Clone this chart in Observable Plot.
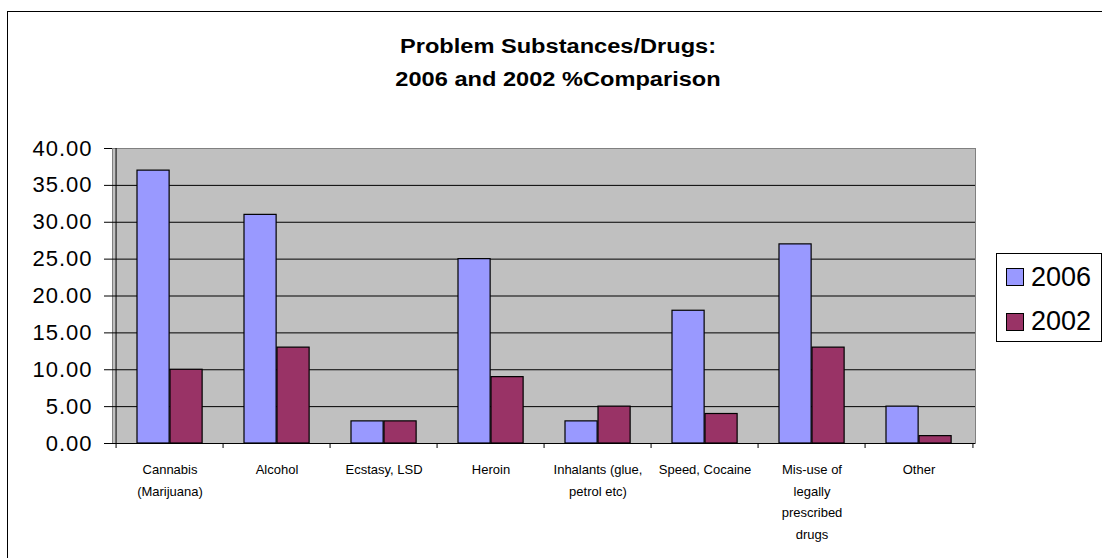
<!DOCTYPE html>
<html>
<head>
<meta charset="utf-8">
<script src="https://cdn.jsdelivr.net/npm/d3@7"></script>
<script src="https://cdn.jsdelivr.net/npm/@observablehq/plot@0.6"></script>
<style>
  html, body { margin: 0; padding: 0; background: #fff; }
  #wrap { position: relative; width: 1102px; height: 558px; overflow: hidden; font-family: "Liberation Sans", Arial, sans-serif; }
  #border { position: absolute; left: 7px; top: 11px; width: 1110px; height: 600px; border: 1px solid #000; box-sizing: border-box; }
  #title { position: absolute; left: 0; width: 1116px; top: 30px; text-align: center; font-weight: bold; font-size: 20px; line-height: 33px; color: #000; transform: scaleX(1.18); transform-origin: 558px 0; }
  #legend { position: absolute; left: 996px; top: 253px; width: 106px; height: 89px; border: 1px solid #000; background: #fff; box-sizing: border-box; }
  .li { position: absolute; left: 9px; height: 30px; display: flex; align-items: center; }
  .sw { width: 18px; height: 18px; border: 1.5px solid #000; box-sizing: border-box; }
  .lt { font-size: 27px; margin-left: 7px; }
  #chart { position: absolute; left: 0; top: 0; }
  g[aria-label="y-axis tick label"] text { letter-spacing: 1px; }
  g[aria-label="xlabels"] text { letter-spacing: 0.9px; }
</style>
</head>
<body>
<div id="wrap">
  <div id="border"></div>
  <div id="chart"></div>
  <div id="title">Problem Substances/Drugs:<br>2006 and 2002 %Comparison</div>
  <div id="legend"></div>
</div>
<script>
const categories = ["Cannabis", "Alcohol", "Ecstasy", "Heroin", "Inhalants", "Speed", "Misuse", "Other"];
const categoryLabels = ["Cannabis\n(Marijuana)", "Alcohol", "Ecstasy, LSD", "Heroin", "Inhalants (glue,\npetrol etc)", "Speed, Cocaine", "Mis-use of\nlegally\nprescribed\ndrugs", "Other"];
const values2006 = [37, 31, 3, 25, 3, 18, 27, 5];
const values2002 = [10, 13, 3, 9, 5, 4, 13, 1];
const seriesNames = ["2006", "2002"];
const seriesColors = ["#9999FF", "#993366"];
const yTicks = [0, 5, 10, 15, 20, 25, 30, 35, 40];

const rows2006 = categories.map((c, i) => ({category: c, value: values2006[i]}));
const rows2002 = categories.map((c, i) => ({category: c, value: values2002[i]}));
const labelOf = Object.fromEntries(categories.map((c, i) => [c, categoryLabels[i]]));

const W = 1102, H = 558, mL = 112, mR = 127, mT = 148, mB = 115;
const bw = (W - mL - mR) / categories.length;
const barW = 33, gap = 21;

const chart = Plot.plot({
  width: W, height: H,
  marginLeft: mL, marginRight: mR, marginTop: mT, marginBottom: mB,
  style: {fontFamily: "'Liberation Sans', Arial, sans-serif", background: "transparent", color: "#000"},
  x: {type: "band", domain: categories, padding: 0, axis: null},
  y: {domain: [0, 40], axis: null},
  marks: [
    Plot.frame({fill: "#C0C0C0", stroke: "#808080"}),
    Plot.ruleY(yTicks.filter(t => t > 0 && t < 40), {stroke: "#000", strokeWidth: 1}),
    Plot.barY(rows2006, {x: "category", y: "value", fill: seriesColors[0], stroke: "#000", strokeWidth: 1.2, insetLeft: gap, insetRight: bw - gap - barW}),
    Plot.barY(rows2002, {x: "category", y: "value", fill: seriesColors[1], stroke: "#000", strokeWidth: 1.2, insetLeft: gap + barW, insetRight: bw - gap - 2 * barW}),
    Plot.ruleX(categories.slice(0, 1), {x: d => d, dx: -bw / 2, stroke: "#000"}),
    Plot.ruleY([0], {stroke: "#000"}),
    Plot.ruleX(categories, {x: d => d, dx: -bw / 2, y1: 0, y2: 0, insetBottom: -5, stroke: "#000"}),
    Plot.ruleX(categories.slice(-1), {x: d => d, dx: bw / 2, y1: 0, y2: 0, insetBottom: -5, stroke: "#000"}),
    Plot.axisY({ticks: yTicks, tickFormat: d => d.toFixed(2), tickSize: 8, tickPadding: 12, fontSize: 22, label: null, stroke: "#000", fill: "#000"}),
    Plot.text(categories, {x: d => d, y: 0, text: d => labelOf[d], lineAnchor: "top", dy: 15, fontSize: 13, lineHeight: 1.67, fill: "#000", ariaLabel: "xlabels"})
  ]
});
document.getElementById("chart").appendChild(chart);

const legend = document.getElementById("legend");
seriesNames.forEach((name, i) => {
  const item = document.createElement("div");
  item.className = "li";
  item.style.top = (8 + i * 44.5) + "px";
  const sw = document.createElement("div");
  sw.className = "sw";
  sw.style.background = seriesColors[i];
  const t = document.createElement("span");
  t.className = "lt";
  t.textContent = name;
  item.appendChild(sw);
  item.appendChild(t);
  legend.appendChild(item);
});
</script>
</body>
</html>
